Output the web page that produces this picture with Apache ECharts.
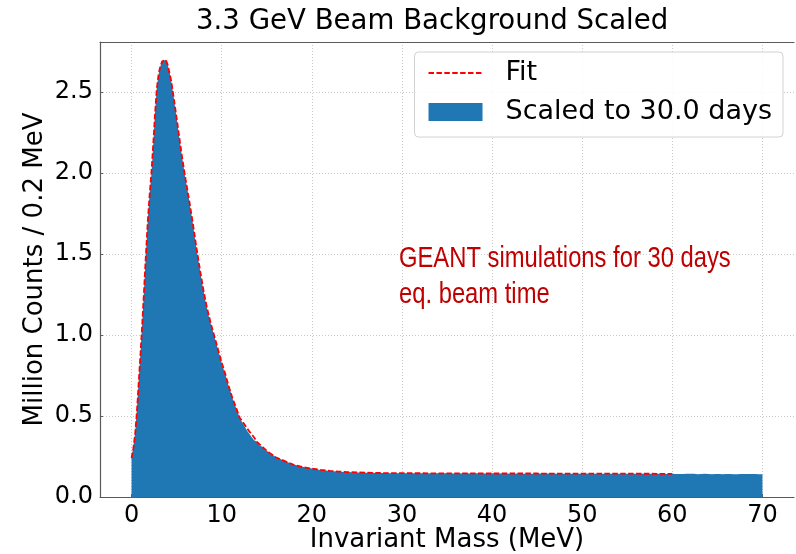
<!DOCTYPE html>
<html>
<head>
<meta charset="utf-8">
<script src="https://cdn.jsdelivr.net/npm/echarts@6/dist/echarts.min.js"></script>
<style>
  html, body { margin: 0; padding: 0; background: #fff; }
  #chart { width: 796px; height: 554px; }
</style>
</head>
<body>
<div id="chart"></div>
<script>
// Histogram: counts per 0.2 MeV bin (in millions), bins start at 0 MeV
const binWidth = 0.2;
const histValues = [
  0.25,0.31,0.40,0.55,0.73,0.90,1.09,1.30,1.51,1.71,
  1.87,1.99,2.17,2.37,2.53,2.61,2.66,2.69,2.70,2.70,
  2.67,2.63,2.57,2.50,2.42,2.34,2.26,2.18,2.10,2.03,
  1.96,1.90,1.83,1.76,1.69,1.61,1.54,1.47,1.40,1.33,
  1.27,1.21,1.16,1.11,1.07,1.03,0.99,0.95,0.91,0.87,
  0.83,0.79,0.76,0.72,0.68,0.65,0.61,0.58,0.55,0.52,
  0.49,0.47,0.45,0.43,0.41,0.395,0.38,0.365,0.35,0.34,
  0.328,0.318,0.308,0.298,0.289,0.280,0.272,0.264,0.257,0.250,
  0.244,0.238,0.232,0.227,0.222,0.217,0.213,0.209,0.205,0.201,
  0.198,0.195,0.192,0.189,0.186,0.184,0.182,0.180,0.178,0.176,
  0.174,0.172,0.170,0.168,0.167,0.165,0.164,0.163,0.162,0.161,
  0.160,0.159,0.158,0.157,0.157,0.156,0.155,0.155,0.154,0.154,
  0.153,0.153,0.152,0.152,0.152,0.151,0.151,0.151,0.150,0.150,
  0.150,0.149,0.150,0.149,0.149,0.148,0.149,0.148,0.148,0.148,
  0.148,0.147,0.148,0.147,0.147,0.148,0.147,0.147,0.146,0.147,
  0.147,0.146,0.147,0.146,0.147,0.146,0.146,0.147,0.146,0.146,
  0.146,0.147,0.146,0.145,0.146,0.146,0.147,0.146,0.145,0.146,
  0.146,0.145,0.146,0.146,0.145,0.146,0.146,0.145,0.146,0.145,
  0.146,0.145,0.145,0.146,0.145,0.146,0.145,0.145,0.146,0.145,
  0.145,0.146,0.145,0.145,0.146,0.145,0.145,0.144,0.145,0.146,
  0.145,0.145,0.144,0.145,0.146,0.145,0.144,0.145,0.145,0.144,
  0.145,0.144,0.145,0.145,0.144,0.145,0.146,0.144,0.145,0.144,
  0.145,0.144,0.145,0.144,0.145,0.145,0.144,0.145,0.144,0.145,
  0.144,0.145,0.144,0.145,0.144,0.144,0.145,0.144,0.145,0.144,
  0.144,0.145,0.144,0.144,0.145,0.144,0.143,0.144,0.145,0.144,
  0.144,0.143,0.144,0.145,0.144,0.144,0.143,0.144,0.144,0.143,
  0.144,0.144,0.143,0.144,0.143,0.144,0.144,0.143,0.144,0.143,
  0.143,0.144,0.143,0.144,0.143,0.143,0.144,0.143,0.143,0.144,
  0.143,0.143,0.144,0.143,0.142,0.143,0.144,0.143,0.143,0.142,
  0.143,0.143,0.142,0.143,0.144,0.142,0.143,0.143,0.142,0.143,
  0.143,0.142,0.144,0.142,0.143,0.142,0.143,0.143,0.141,0.143,
  0.142,0.143,0.142,0.141,0.143,0.142,0.142,0.143,0.141,0.142,
  0.142,0.141,0.143,0.142,0.141,0.142,0.142,0.141,0.143,0.142,
  0.141,0.142,0.142,0.141,0.142,0.141,0.143,0.142,0.141,0.142,
  0.141,0.142,0.141,0.142,0.141,0.142,0.141,0.140,0.142,0.141
];

// Fit curve samples (MeV, million counts)
const fitX = [0,0.2,0.4,0.6,0.8,1.0,1.2,1.4,1.6,1.8,2.0,2.2,2.4,2.6,2.8,3.0,3.2,3.4,3.6,3.8,
  4.0,4.4,4.8,5.2,5.6,6.0,6.4,6.8,7.2,7.6,8.0,8.4,8.8,9.2,9.6,10.0,10.4,10.8,11.2,11.6,
  12,12.5,13,13.5,14,15,16,17,18,19,20,21,22,23,24,26,28,30,35,40,45,50,55,60];
const fitY = [0.24,0.30,0.39,0.53,0.71,0.89,1.08,1.29,1.50,1.70,1.86,2.00,2.17,2.36,2.52,2.61,2.66,2.69,2.70,2.70,
  2.67,2.57,2.42,2.26,2.10,1.96,1.83,1.69,1.54,1.40,1.27,1.16,1.07,0.99,0.91,0.83,0.76,0.68,0.61,0.55,
  0.49,0.45,0.41,0.375,0.335,0.285,0.245,0.222,0.198,0.185,0.175,0.167,0.161,0.157,0.154,0.150,0.148,0.147,0.146,0.145,0.145,0.144,0.144,0.143];

// Axis ticks
const xTicks = [0, 10, 20, 30, 40, 50, 60, 70];
const yTicks = [0, 0.5, 1.0, 1.5, 2.0, 2.5];

const histData = histValues.map((v, i) => [+(i * binWidth).toFixed(1), v]);
histData.push([+(histValues.length * binWidth).toFixed(1), histValues[histValues.length - 1]]);
const fitData = fitX.map((x, i) => [x, fitY[i]]);

const spine = { show: true, onZero: false, lineStyle: { color: '#5a5a5a', width: 1.2 } };
const grid = { show: true, type: [1, 2], color: '#c4c4c4', width: 0.9 };
const FONT = 'DejaVu Sans';
const NOTE_FONT = '29px "Liberation Sans", Arial, sans-serif';

const chart = echarts.init(document.getElementById('chart'), null, { renderer: 'canvas' });
chart.setOption({
  animation: false,
  backgroundColor: '#ffffff',
  textStyle: { fontFamily: FONT },
  title: {
    text: '3.3 GeV Beam Background Scaled',
    left: 196, top: 8, padding: 0,
    textStyle: { fontFamily: FONT, fontSize: 27.6, fontWeight: 'normal', color: '#000' }
  },
  grid: { left: 100, right: 2, top: 42, bottom: 57, outerBoundsMode: 'none', containLabel: false },
  legend: {
    orient: 'vertical',
    right: 13, top: 52,
    itemWidth: 54, itemHeight: 18, itemGap: 9,
    padding: [6, 11, 10, 13],
    backgroundColor: 'rgba(255,255,255,0.85)',
    borderColor: '#d2d2d2', borderWidth: 1, borderRadius: 4,
    textStyle: { fontFamily: FONT, fontSize: 27, color: '#000', lineHeight: 30, padding: [0, 0, 0, 18] },
    data: [
      { name: 'Fit', itemStyle: { opacity: 0 } },
      { name: 'Scaled to 30.0 days', icon: 'rect' }
    ]
  },
  xAxis: [{
    type: 'value', min: -3.5, max: 73.5,
    name: 'Invariant Mass (MeV)', nameLocation: 'middle', nameGap: 30, nameMoveOverlap: false,
    nameTextStyle: { fontFamily: FONT, fontSize: 26, color: '#000' },
    axisLine: spine,
    axisTick: { show: true, inside: true, length: 3, customValues: xTicks, lineStyle: { color: '#5a5a5a' } },
    axisLabel: { customValues: xTicks, fontFamily: FONT, fontSize: 24, color: '#000', margin: 7 },
    splitLine: { show: true, lineStyle: grid }
  }, {
    type: 'value', min: -3.5, max: 73.5, position: 'top',
    axisLine: spine, axisTick: { show: false }, axisLabel: { show: false }, splitLine: { show: false }
  }],
  yAxis: {
    type: 'value', min: 0, max: 2.81,
    name: 'Million Counts / 0.2 MeV', nameLocation: 'middle', nameGap: 52, nameMoveOverlap: false,
    nameTextStyle: { fontFamily: FONT, fontSize: 26, color: '#000' },
    axisLine: spine,
    axisTick: { show: true, inside: true, length: 3, customValues: yTicks, lineStyle: { color: '#5a5a5a' } },
    axisLabel: { customValues: yTicks, fontFamily: FONT, fontSize: 24, color: '#000', margin: 7,
      formatter: v => v.toFixed(1) },
    splitLine: { show: true, lineStyle: grid }
  },
  series: [{
    name: 'Scaled to 30.0 days',
    type: 'line', step: 'end',
    data: histData,
    symbol: 'none',
    color: '#1f77b4',
    lineStyle: { width: 0, opacity: 0 },
    areaStyle: { color: '#1f77b4', opacity: 1 },
    z: 2
  }, {
    name: 'Fit',
    type: 'line',
    data: fitData,
    symbol: 'none',
    color: '#ff0000',
    lineStyle: { color: '#ff0000', width: 1.8, type: [5.5, 2.4] },
    z: 3
  }],
  graphic: [{
    type: 'text', x: 399, y: 244, scaleX: 0.82, z: 10,
    style: { text: 'GEANT simulations for 30 days', fill: '#c00000', font: NOTE_FONT }
  }, {
    type: 'text', x: 399, y: 280, scaleX: 0.82, z: 10,
    style: { text: 'eq. beam time', fill: '#c00000', font: NOTE_FONT }
  }]
});
</script>
</body>
</html>
